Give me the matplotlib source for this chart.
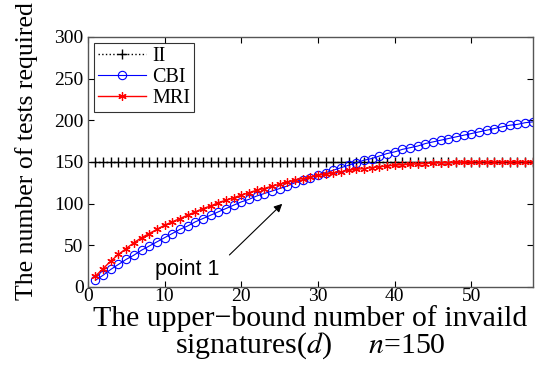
import matplotlib
matplotlib.use("Agg")
import matplotlib.pyplot as plt

# d = 1 .. 58
d = list(range(1, 59))

ii = [150] * 58

cbi = [8, 14, 21, 27, 33, 38, 44, 49, 54, 59,
       64, 69, 73, 78, 82, 86, 90, 94, 98, 102,
       105, 109, 112, 115, 118, 121, 125, 128, 131, 134,
       137, 140, 143, 146, 149, 152, 154, 157, 160, 162,
       165, 167, 169, 172, 174, 176, 178, 180, 182, 184,
       186, 188, 190, 192, 194, 195, 197, 198]

mri = [13, 22, 31, 39, 46, 53, 59, 64, 69, 74,
       78, 82, 86, 90, 94, 97, 101, 104, 107, 110,
       113, 116, 118, 121, 123, 126, 128, 130, 132, 134,
       135, 137, 138, 140, 141, 142, 143, 144, 145, 146,
       146.5, 147, 147.5, 148, 148.5, 149, 149, 149.5, 149.5, 150,
       150, 150, 150, 150, 150, 150, 150, 150]

xticks = [0, 10, 20, 30, 40, 50]
yticks = [0, 50, 100, 150, 200, 250, 300]

plt.rcParams['font.family'] = ['Liberation Serif', 'DejaVu Serif']
plt.rcParams['mathtext.fontset'] = 'stix'

fig = plt.figure(figsize=(5.42, 3.65), dpi=100)
ax = fig.add_axes([0.162, 0.214, 0.821, 0.685])

ax.plot(d, ii, color='black', linestyle=':', linewidth=1.0,
        marker='+', markersize=7, markeredgewidth=1.0, label='II')
ax.plot(d, cbi, color='blue', linestyle='-', linewidth=0.8,
        marker='o', markersize=6, markerfacecolor='none',
        markeredgewidth=0.8, label='CBI')
# MATLAB-style asterisk marker
ax.plot(d, mri, color='red', linestyle='-', linewidth=1.0,
        marker=(6, 2, 0), markersize=6, markeredgewidth=0.9, label='MRI')

ax.set_xlim(0, 58)
ax.set_ylim(0, 300)
ax.set_xticks(xticks)
ax.set_yticks(yticks)
ax.tick_params(direction='in', top=True, right=True, labelsize=14,
               length=4, width=0.8)
ax.tick_params(axis='x', pad=1)
ax.tick_params(axis='y', pad=3)
for s in ax.spines.values():
    s.set_color('#555555')
    s.set_linewidth(1.0)

ax.set_ylabel('The number of tests required', fontsize=18.5)
ax.yaxis.set_label_coords(-0.112, 0.545)
ax.set_xlabel('The upper\u2212bound number of invaild\nsignatures($d$)     $n$=150',
              fontsize=21.5, linespacing=0.9, labelpad=0)

leg = ax.legend(loc='upper left', fontsize=14.5, frameon=True, fancybox=False,
                borderpad=0.2, labelspacing=0.1, handlelength=2.4,
                handletextpad=0.3, borderaxespad=0.3)
leg.get_frame().set_edgecolor('black')
leg.get_frame().set_linewidth(0.8)

# annotation
ax.annotate('', xy=(25.6, 102), xytext=(18.2, 36),
            arrowprops=dict(arrowstyle='-|>', color='black', lw=0.8,
                            mutation_scale=12))
ax.text(8.7, 14, 'point 1', fontsize=15.5, family='Liberation Sans',
        ha='left', va='baseline')

fig.savefig('out.png', dpi=100)
